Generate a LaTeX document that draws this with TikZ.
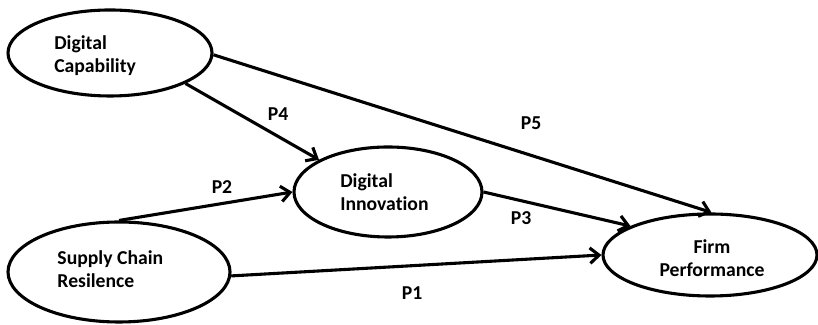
\documentclass[tikz,border=0pt]{standalone}
\usepackage{fontspec}
\setmainfont{Carlito}[Ligatures=NoCommon]
\usetikzlibrary{shapes.geometric,arrows.meta}

\tikzset{
	construct/.style={draw=black, ellipse, line width=2.2pt, inner sep=0pt},
	hyp/.style={draw=black, line width=2.2pt, -{Straight Barb[length=6.5pt,width=11pt,line width=2.2pt]}},
	txt/.style={black, inner sep=0pt, font=\fontsize{14}{16.4}\selectfont\bfseries},
}

\begin{document}
\begin{tikzpicture}
	\useasboundingbox (0,0) rectangle (20.45,8.125);
	% constructs
	\node[construct, minimum width=5.10cm, minimum height=2.15cm] (dcap) at (2.75,6.80) {};
	\node[construct, minimum width=4.70cm, minimum height=2.25cm] (dinn) at (9.70,3.325) {};
	\node[construct, minimum width=5.55cm, minimum height=2.50cm] (scr) at (2.975,1.325) {};
	\node[construct, minimum width=5.35cm, minimum height=2.05cm] (perf) at (17.75,1.75) {};
	\node[txt, align=left, anchor=west] (dcaptext) at (1.35,6.74) {Digital\\Capability};
	\node[txt, align=left, anchor=west] (dinntext) at (8.50,3.33) {Digital\\Innovation};
	\node[txt, align=left, anchor=west] (scrtext) at (1.43,1.39) {Supply Chain\\Resilence};
	\node[txt, align=center] (perftext) at (17.80,1.66) {Firm\\Performance};
	% hypotheses
	\draw[hyp] (dcap.-1) -- (perf.88);
	\draw[hyp] (dcap.-22) -- (dinn.155);
	\draw[hyp] (scr.north) -- (dinn.west);
	\draw[hyp] (dinn.east) -- (perf.160);
	\draw[hyp] (scr.-2) -- (perf.west);
	\node[txt] (p4) at (6.95,5.28) {P4};
	\node[txt] (p5) at (13.28,5.05) {P5};
	\node[txt] (p2) at (5.55,3.45) {P2};
	\node[txt] (p3) at (13.03,2.68) {P3};
	\node[txt] (p1) at (10.30,0.80) {P1};
\end{tikzpicture}
\end{document}
